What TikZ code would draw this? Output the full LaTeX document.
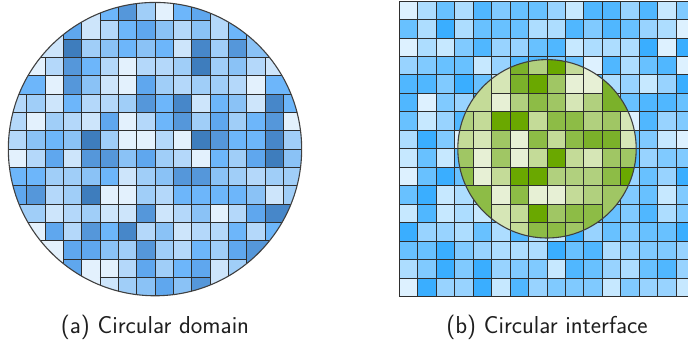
\documentclass[tikz,border=0pt]{standalone}
\usepackage{tikz}

% blue shades of the circular domain
\definecolor{lc0}{HTML}{E3F1FD}
\definecolor{lc1}{HTML}{CDE5FB}
\definecolor{lc2}{HTML}{B4D8FA}
\definecolor{lc3}{HTML}{A0CEF8}
\definecolor{lc4}{HTML}{8AC2F6}
\definecolor{lc5}{HTML}{6DB6FA}
\definecolor{lc6}{HTML}{5FA7EE}
\definecolor{lc7}{HTML}{5597DA}
\definecolor{lc8}{HTML}{4787C9}
\definecolor{lc9}{HTML}{3E7DBD}
% cyan-blue shades of the outer medium
\definecolor{rc0}{HTML}{DDF1FF}
\definecolor{rc1}{HTML}{C6E8FF}
\definecolor{rc2}{HTML}{ADDDFF}
\definecolor{rc3}{HTML}{98D3FF}
\definecolor{rc4}{HTML}{80CAFF}
\definecolor{rc5}{HTML}{68C1FF}
\definecolor{rc6}{HTML}{50B7FF}
\definecolor{rc7}{HTML}{3AAEFF}
% green shades of the inclusion
\definecolor{gc0}{HTML}{E7F0D5}
\definecolor{gc1}{HTML}{D6E6B6}
\definecolor{gc2}{HTML}{C4DB98}
\definecolor{gc3}{HTML}{B1D07E}
\definecolor{gc4}{HTML}{A0C664}
\definecolor{gc5}{HTML}{8DBC46}
\definecolor{gc6}{HTML}{7BB12A}
\definecolor{gc7}{HTML}{6AA800}

\tikzset{
  gridline/.style={draw=black!82, line width=0.95pt},
  rimline/.style={draw=black!75, line width=1.1pt},
  caption/.style={font=\sffamily\fontsize{24.5}{28}\selectfont, text=black!88, inner sep=0pt}
}

% one step of a boundary cell towards the centre (offsets in cell units)
\newcommand\stepcell[1]{%
  \pgfmathparse{\pdx*\pdx+\pdy*\pdy>#1}%
  \ifdim\pgfmathresult pt>0.5pt
    \pgfmathparse{abs(\pdx)>abs(\pdy)}%
    \ifdim\pgfmathresult pt>0.5pt
      \pgfmathsetmacro\pdx{\pdx-\pdx/abs(\pdx)}%
    \else
      \pgfmathsetmacro\pdy{\pdy-\pdy/abs(\pdy)}%
    \fi
  \fi}
% cell #1,#2 of a 16x16 grid, squared radius #3, table #4:
% stores the interior cell that owns it
\newcommand\ownerof[4]{%
  \pgfmathsetmacro\pdx{#1-7.5}\pgfmathsetmacro\pdy{#2-7.5}%
  \stepcell{#3}\stepcell{#3}\stepcell{#3}\stepcell{#3}%
  \pgfmathtruncatemacro\pI{round(\pdx+7.5)}%
  \pgfmathtruncatemacro\pJ{round(\pdy+7.5)}%
  \expandafter\xdef\csname own#4-#1-#2\endcsname{\pI-\pJ}}

\begin{document}
\begin{tikzpicture}[x=1pt,y=-1pt]
\useasboundingbox (0,0) rectangle (688,343);
\clip (0,0) rectangle (688,343);

% shade tables
\pgfmathsetseed{4711}
\foreach \j in {0,...,15}{\foreach \i in {0,...,15}{%
  \pgfmathrandominteger{\r}{0}{21}%
  \pgfmathtruncatemacro\c{{0,0,1,1,2,2,2,3,3,3,4,4,4,5,5,5,6,6,7,7,8,9}[\r]}%
  \expandafter\xdef\csname colA-\i-\j\endcsname{\c}%
  \pgfmathrandominteger{\r}{0}{19}%
  \pgfmathtruncatemacro\c{{0,1,1,2,2,2,3,3,3,4,4,4,5,5,5,6,6,6,7,7}[\r]}%
  \expandafter\xdef\csname colB-\i-\j\endcsname{\c}%
  \pgfmathrandominteger{\r}{0}{17}%
  \pgfmathtruncatemacro\c{{0,1,1,2,2,2,3,3,3,4,4,4,5,5,6,6,7,7}[\r]}%
  \expandafter\xdef\csname colG-\i-\j\endcsname{\c}%
  \ownerof{\i}{\j}{64}{A}%
}}
\foreach \j in {3,...,12}{\foreach \i in {3,...,12}{\ownerof{\i}{\j}{23.35}{G}}}

% ---------- (a) circular domain ----------
\def\ax{8.33}\def\ay{2.4}\def\as{18.333}
\begin{scope}
  \clip (155,149.1) circle (146.67);
  \foreach \i in {0,...,15}{\foreach \j in {0,...,15}{%
    \edef\pp{\csname ownA-\i-\j\endcsname}%
    \edef\cc{\csname colA-\pp\endcsname}%
    \fill[lc\cc] ({\ax+\i*\as},{\ay+\j*\as}) rectangle +(\as,\as);
  }}
  \foreach \i in {0,...,14}{\foreach \j in {0,...,15}{%
    \pgfmathtruncatemacro\ii{\i+1}%
    \edef\pa{\csname ownA-\i-\j\endcsname}\edef\pb{\csname ownA-\ii-\j\endcsname}%
    \ifx\pa\pb\else\draw[gridline] ({\ax+\ii*\as},{\ay+\j*\as}) -- +(0,\as);\fi
    \edef\pa{\csname ownA-\j-\i\endcsname}\edef\pb{\csname ownA-\j-\ii\endcsname}%
    \ifx\pa\pb\else\draw[gridline] ({\ax+\j*\as},{\ay+\ii*\as}) -- +(\as,0);\fi
  }}
\end{scope}
\draw[rimline] (155,149.1) circle (146.67);

% ---------- (b) circular interface ----------
\def\bx{399.3}\def\by{1.1}\def\bs{18.46}
\foreach \i in {0,...,15}{\foreach \j in {0,...,15}{%
  \edef\cc{\csname colB-\i-\j\endcsname}%
  \filldraw[gridline, fill=rc\cc] ({\bx+\i*\bs},{\by+\j*\bs}) rectangle +(\bs,\bs);
}}
\begin{scope}
  \clip (547,148.8) circle (89.2);
  \foreach \i in {3,...,12}{\foreach \j in {3,...,12}{%
    \edef\pp{\csname ownG-\i-\j\endcsname}%
    \edef\cc{\csname colG-\pp\endcsname}%
    \fill[gc\cc] ({\bx+\i*\bs},{\by+\j*\bs}) rectangle +(\bs,\bs);
  }}
  \foreach \i in {3,...,11}{\foreach \j in {3,...,12}{%
    \pgfmathtruncatemacro\ii{\i+1}%
    \edef\pa{\csname ownG-\i-\j\endcsname}\edef\pb{\csname ownG-\ii-\j\endcsname}%
    \ifx\pa\pb\else\draw[gridline] ({\bx+\ii*\bs},{\by+\j*\bs}) -- +(0,\bs);\fi
    \edef\pa{\csname ownG-\j-\i\endcsname}\edef\pb{\csname ownG-\j-\ii\endcsname}%
    \ifx\pa\pb\else\draw[gridline] ({\bx+\j*\bs},{\by+\ii*\bs}) -- +(\bs,0);\fi
  }}
\end{scope}
\draw[rimline] (547,148.8) circle (89.2);

% ---------- captions ----------
\node[caption] (capA) at (155,327.5) {(a) Circular domain};
\node[caption] (capB) at (547,327.5) {(b) Circular interface};
\end{tikzpicture}
\end{document}
